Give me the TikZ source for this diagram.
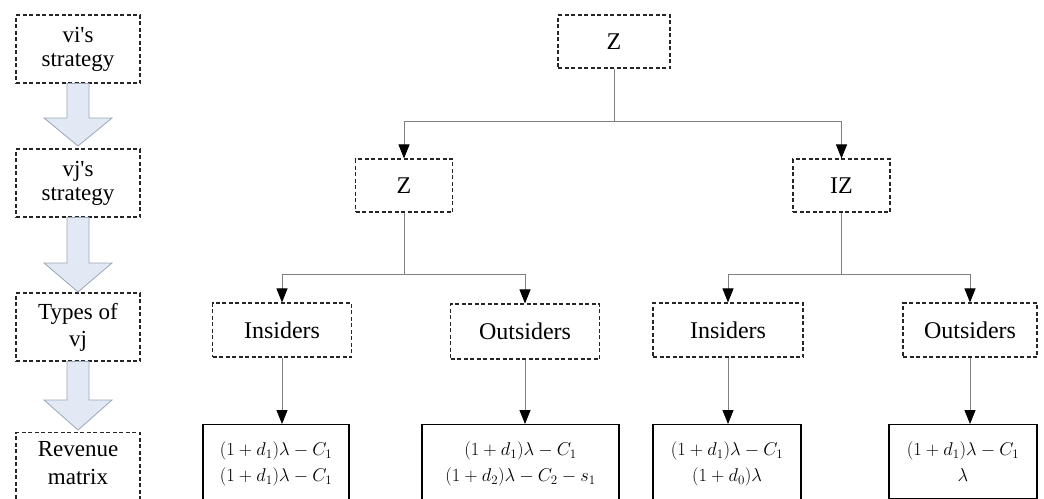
\RequirePackage{fix-cm}
\documentclass[tikz,border=0pt]{standalone}
\usepackage{fontspec}
\setmainfont{Liberation Serif}
\usetikzlibrary{arrows.meta}
\definecolor{arrfill}{HTML}{E2E9F5}
\definecolor{arrline}{HTML}{9AA6B6}
\definecolor{conn}{HTML}{808080}
\newcommand{\apos}{\textquotesingle}
\tikzset{
  dbox/.style={draw=black!85, dash pattern=on 4pt off 2.5pt, line width=1.1pt, inner sep=0pt, align=center, font=\fontsize{23}{24}\selectfont},
  sbox/.style={draw=black, line width=1.2pt, inner xsep=0pt, inner ysep=17pt, align=center, anchor=north, font=\fontsize{18.5}{26}\selectfont},
  conline/.style={draw=conn, line width=0.9pt},
  conarrow/.style={conline, -{Triangle[length=14pt,width=11pt,black]}},
  blockarrow/.style={fill=arrfill, draw=arrline, line width=0.8pt, line join=miter}
}
\begin{document}
\begin{tikzpicture}[x=1pt,y=-1pt]
\useasboundingbox (0,0) rectangle (1044,498);
\clip (0,0) rectangle (1044,498);
% left column
\node[dbox, minimum width=124pt, minimum height=68pt] (b1) at (78,49) {vi\apos s\\strategy};
\node[dbox, minimum width=124pt, minimum height=68pt] (b2) at (78,183) {vj\apos s\\strategy};
\node[dbox, font=\fontsize{23}{27}\selectfont, minimum width=124pt, minimum height=68pt] (b3) at (78,327) {Types of\\vj};
\node[dbox, font=\fontsize{23}{28}\selectfont, minimum width=124pt, minimum height=80pt, anchor=north, text depth=20pt] (b4) at (78,432) {Revenue\\matrix};
% block arrows
\draw[blockarrow] (67,83.5) -- (89,83.5) -- (89,118) -- (112,118) -- (78,146) -- (44,118) -- (67,118) -- cycle;
\draw[blockarrow] (67,217.5) -- (89,217.5) -- (89,263) -- (112,263) -- (78,292) -- (44,263) -- (67,263) -- cycle;
\draw[blockarrow] (67,361.5) -- (89,361.5) -- (89,400) -- (112,400) -- (78,430) -- (44,400) -- (67,400) -- cycle;
% tree
\node[dbox, font=\fontsize{24}{26}\selectfont, minimum width=112pt, minimum height=53pt] (z0) at (614,41.5) {Z};
\node[dbox, font=\fontsize{24}{26}\selectfont, minimum width=97pt, minimum height=53pt] (z1) at (404,185.5) {Z};
\node[dbox, font=\fontsize{24}{26}\selectfont, minimum width=97pt, minimum height=53pt] (iz) at (841.5,185.5) {IZ};
\node[dbox, font=\fontsize{24}{26}\selectfont, minimum width=139pt, minimum height=54pt] (inL) at (282,330) {Insiders};
\node[dbox, font=\fontsize{24}{26}\selectfont, minimum width=149pt, minimum height=55pt] (outL) at (525,331.5) {Outsiders};
\node[dbox, font=\fontsize{24}{26}\selectfont, minimum width=150pt, minimum height=54pt] (inR) at (728,330) {Insiders};
\node[dbox, font=\fontsize{24}{26}\selectfont, minimum width=134pt, minimum height=54pt] (outR) at (970,330) {Outsiders};
% revenue boxes
\node[sbox, minimum width=146pt] (rL1) at (276,424) {$(1+d_1)\lambda-C_1$\\$(1+d_1)\lambda-C_1$};
\node[sbox, minimum width=197pt] (rL2) at (520.5,424) {$(1+d_1)\lambda-C_1$\\$(1+d_2)\lambda-C_2-s_1$};
\node[sbox, minimum width=148pt] (rR1) at (727,424) {$(1+d_1)\lambda-C_1$\\$(1+d_0)\lambda$};
\node[sbox, minimum width=148pt] (rR2) at (963,424) {$(1+d_1)\lambda-C_1$\\$\lambda$};
% connectors
\draw[conline] (z0.south) -- (z0.south |- 0,121) coordinate (h0);
\draw[conarrow] (h0) -| (z1.north);
\draw[conarrow] (h0) -| (iz.north);
\draw[conline] (z1.south) -- (z1.south |- 0,274) coordinate (h1);
\draw[conarrow] (h1) -| (inL.north);
\draw[conarrow] (h1) -| (outL.north);
\draw[conline] (iz.south) -- (iz.south |- 0,274) coordinate (h2);
\draw[conarrow] (h2) -| (inR.north);
\draw[conarrow] (h2) -| (outR.north);
\draw[conarrow] (inL.south) -- (inL.south |- rL1.north);
\draw[conarrow] (outL.south) -- (outL.south |- rL2.north);
\draw[conarrow] (inR.south) -- (inR.south |- rR1.north);
\draw[conarrow] (outR.south) -- (outR.south |- rR2.north);
\end{tikzpicture}
\end{document}
